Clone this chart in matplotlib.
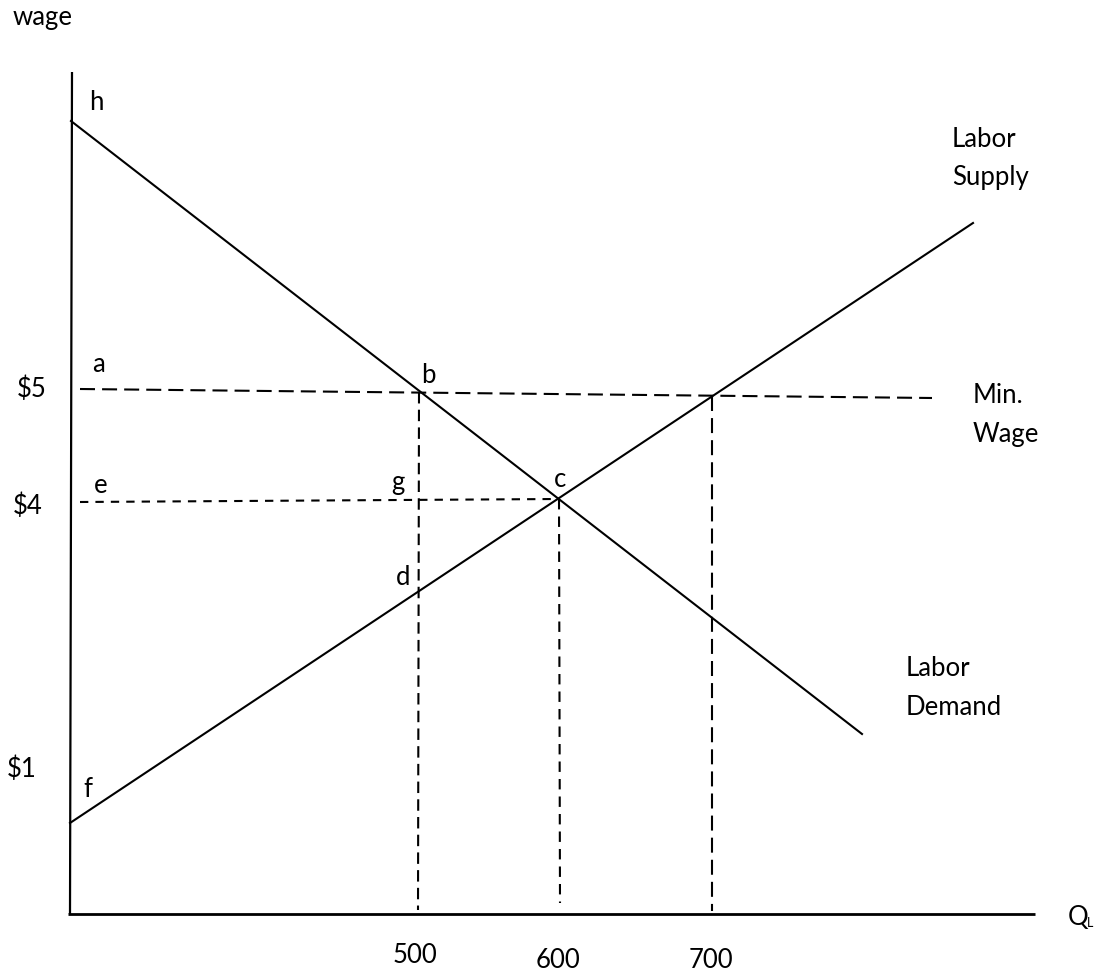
import matplotlib
matplotlib.use("Agg")
import matplotlib.pyplot as plt

plt.rcParams['font.family'] = ['Lato', 'DejaVu Sans']

# Diagram coordinates (schematic; y grows downward)
axis_y_x = [72, 70]; axis_y_y = [72, 914]
axis_x_x = [68, 1035]; axis_x_y = [914, 914]

demand_x = [71, 862]; demand_y = [121, 734]
supply_x = [70, 973]; supply_y = [823, 223]

minwage_x = [80, 932]; minwage_y = [389, 398]
eqwage_x = [80, 558]; eqwage_y = [502, 499]

q500_x = [419, 418]; q500_y = [392, 910]
q600_x = [559, 560]; q600_y = [499, 903]
q700_x = [712, 712]; q700_y = [396, 911]

quantity_labels = ["500", "600", "700"]
quantity_label_x = [415, 558, 711]
quantity_label_y = [963, 968, 968]

wage_labels = ["$5", "$4", "$1"]
wage_label_x = [17, 13, 7]
wage_label_y = [397, 514, 777]

point_labels = ["h", "a", "b", "e", "g", "c", "d", "f"]
point_x = [89, 92, 421, 94, 391, 554, 396, 83]
point_y = [110, 372, 383, 493, 490, 487, 585, 797]

fig = plt.figure(figsize=(10.95, 9.72), dpi=100)
ax = fig.add_axes([0, 0, 1, 1])
ax.set_xlim(0, 1095)
ax.set_ylim(972, 0)
ax.axis('off')

k = 'black'
ax.plot(axis_y_x, axis_y_y, color=k, lw=1.6, solid_capstyle='butt')
ax.plot(axis_x_x, axis_x_y, color=k, lw=2.0, solid_capstyle='butt')
ax.plot(demand_x, demand_y, color=k, lw=1.5)
ax.plot(supply_x, supply_y, color=k, lw=1.5)

ax.plot(minwage_x, minwage_y, color=k, lw=1.5, dashes=(7.2, 3.4))
ax.plot(eqwage_x, eqwage_y, color=k, lw=1.5, dashes=(4.0, 3.4))
ax.plot(q500_x, q500_y, color=k, lw=1.5, dashes=(5.5, 3.0))
ax.plot(q600_x, q600_y, color=k, lw=1.5, dashes=(5.0, 3.4))
ax.plot(q700_x, q700_y, color=k, lw=1.5, dashes=(7.2, 3.4))

fs = 18.5
ax.text(13, 25, "wage", fontsize=fs, ha='left', va='baseline')
for s, x, y in zip(quantity_labels, quantity_label_x, quantity_label_y):
    ax.text(x, y, s, fontsize=fs, ha='center', va='baseline')
for s, x, y in zip(wage_labels, wage_label_x, wage_label_y):
    ax.text(x, y, s, fontsize=fs, ha='left', va='baseline')
for s, x, y in zip(point_labels, point_x, point_y):
    ax.text(x, y, s, fontsize=fs, ha='left', va='baseline')

ax.text(952, 147, "Labor", fontsize=fs, ha='left', va='baseline')
ax.text(952, 185, "Supply", fontsize=fs, ha='left', va='baseline')
ax.text(973, 403, "Min.", fontsize=fs, ha='left', va='baseline')
ax.text(973, 442, "Wage", fontsize=fs, ha='left', va='baseline')
ax.text(906, 676, "Labor", fontsize=fs, ha='left', va='baseline')
ax.text(906, 715, "Demand", fontsize=fs, ha='left', va='baseline')

ax.text(1068, 925, "Q", fontsize=fs, ha='left', va='baseline')
ax.text(1087, 927, "L", fontsize=9, ha='left', va='baseline')

fig.savefig("out.png", dpi=100)
